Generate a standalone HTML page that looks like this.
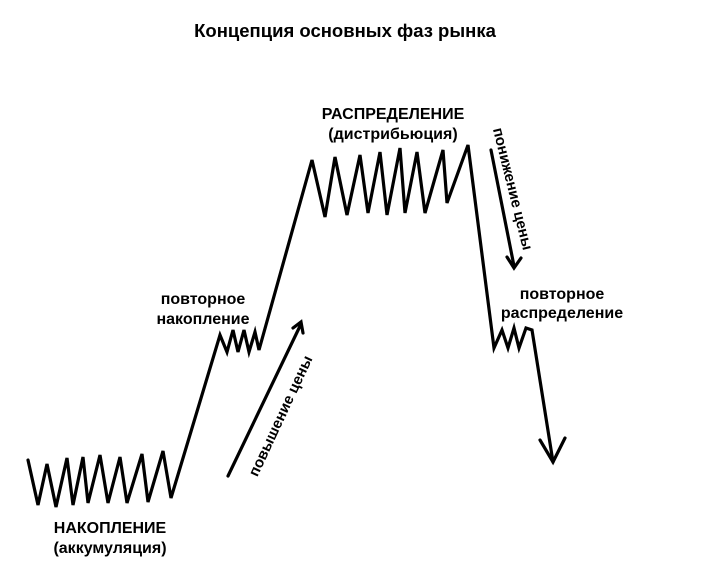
<!DOCTYPE html>
<html><head><meta charset="utf-8"><style>
html,body{margin:0;padding:0;background:#fff;width:704px;height:585px;overflow:hidden}
</style></head><body>
<svg width="704" height="585" viewBox="0 0 704 585" xmlns="http://www.w3.org/2000/svg" font-family="Liberation Sans, sans-serif" font-weight="bold">
<rect width="704" height="585" fill="#fff"/>
<text x="345" y="37" font-size="18.5" text-anchor="middle">Концепция основных фаз рынка</text>
<g fill="none" stroke="#000" stroke-width="3.2" stroke-linejoin="miter" stroke-linecap="round">
<polyline points="28,460 38,505 47,464 56,507 67,458 73,505 83,457 88,503 100,455 108,503 120,457 127,503 142,454 148,502 163,451 171,498 220,335 227,352 233,330 238,352 244,330 249,352 255,332 259,350 312,160 325,217 335,157 347,215 360,155 368,213 380,152 387,215 400,148 405,213 417,152 425,213 443,150 447,203 468,145 494,348 502,330 508,348 514,328 519,348 526,328 532,330 553,462"/>
<polyline points="540,440 553,462 565,438"/>
<line x1="228" y1="476" x2="301" y2="324"/>
<polyline points="293,328 301,322 303,333"/>
<line x1="491" y1="150" x2="514" y2="266"/>
<polyline points="507,257 514,268 521,258"/>
</g>
<g font-size="16" text-anchor="middle">
<text x="393" y="119">РАСПРЕДЕЛЕНИЕ</text>
<text x="393" y="139">(дистрибьюция)</text>
<text x="203" y="304">повторное</text>
<text x="203" y="324">накопление</text>
<text x="562" y="299">повторное</text>
<text x="562" y="318">распределение</text>
<text x="110" y="533">НАКОПЛЕНИЕ</text>
<text x="110" y="553">(аккумуляция)</text>
</g>
<text font-size="15" text-anchor="middle" transform="translate(285,418) rotate(-65)">повышение цены</text>
<text font-size="15" text-anchor="middle" transform="translate(508,190) rotate(76)">понижение цены</text>
</svg>
</body></html>
